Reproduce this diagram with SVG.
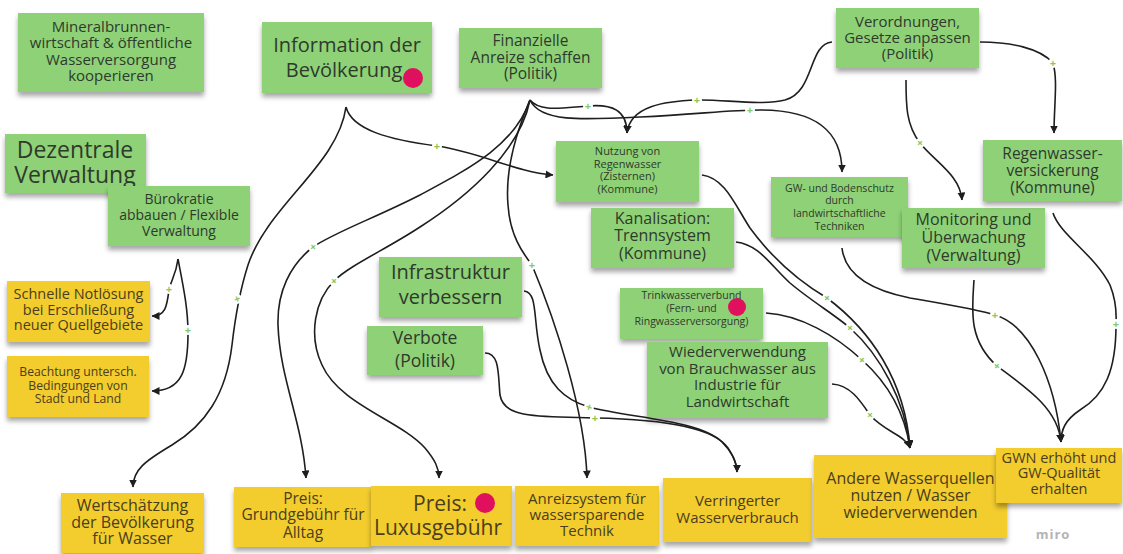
<svg xmlns="http://www.w3.org/2000/svg" width="1123" height="554" viewBox="0 0 1123 554">
  <defs>
    <style>
      .bg { fill: #ffffff; }
      .note { filter: url(#noteShadow); }
      .green { fill: #8fd177; }
      .yellow { fill: #f3cc2e; }
      .dot { fill: #e0105f; }
      text { font-family: "Open Sans", "Noto Sans", "Liberation Sans", sans-serif; text-anchor: middle; }
      .tg { fill: #2e3a2c; }
      .ty { fill: #4a3e1c; }
      .edge { fill: none; stroke: #1e1e1e; stroke-width: 1.6; marker-end: url(#arrow); }
      .gap { fill: #ffffff; }
      .plus { fill: #86c95e; font-size: 11px; font-weight: 700; }
      .brand { fill: #b4b4b4; font-size: 13px; font-weight: 700; letter-spacing: 1px; }
    </style>
    <filter id="noteShadow" x="-10%" y="-10%" width="120%" height="135%">
      <feDropShadow dx="0" dy="4" stdDeviation="2.5" flood-color="#000000" flood-opacity="0.35"/>
    </filter>
    <marker id="arrow" viewBox="0 0 8 8" refX="7.5" refY="4" markerWidth="8" markerHeight="8" markerUnits="userSpaceOnUse" orient="auto">
      <path d="M0,0 L8,4 L0,8 z" fill="#1e1e1e"/>
    </marker>
  </defs>

  <rect class="bg" x="0" y="0" width="1123" height="554"/>

  <!-- sticky notes -->
  <g id="n-mineral">
    <rect class="note green" x="18" y="13" width="186" height="79"/>
    <text class="tg" font-size="15"><tspan x="111" y="31.5">Mineralbrunnen-</tspan><tspan x="111" y="48">wirtschaft &amp; öffentliche</tspan><tspan x="111" y="64.5">Wasserversorgung</tspan><tspan x="111" y="81">kooperieren</tspan></text>
  </g>
  <g id="n-info">
    <rect class="note green" x="262" y="22" width="170" height="71"/>
    <text class="tg" font-size="20"><tspan x="347" y="52">Information der</tspan><tspan x="344" y="77">Bevölkerung</tspan></text>
    <circle class="dot" cx="413" cy="78" r="10"/>
  </g>
  <g id="n-dezentral">
    <rect class="note green" x="5" y="134" width="141" height="59"/>
    <text class="tg" font-size="23"><tspan x="75" y="158">Dezentrale</tspan><tspan x="75" y="183">Verwaltung</tspan></text>
  </g>
  <g id="n-buerokratie">
    <rect class="note green" x="108" y="186" width="142" height="60"/>
    <text class="tg" font-size="14"><tspan x="179" y="204">Bürokratie</tspan><tspan x="179" y="220">abbauen / Flexible</tspan><tspan x="179" y="236">Verwaltung</tspan></text>
  </g>
  <g id="n-finanz">
    <rect class="note green" x="459" y="28" width="143" height="60"/>
    <text class="tg" font-size="15.5"><tspan x="530.5" y="45.5">Finanzielle</tspan><tspan x="530.5" y="62.5">Anreize schaffen</tspan><tspan x="530.5" y="79">(Politik)</tspan></text>
  </g>
  <g id="n-verordnung">
    <rect class="note green" x="836" y="8" width="143" height="60"/>
    <text class="tg" font-size="15"><tspan x="907.5" y="27">Verordnungen,</tspan><tspan x="907.5" y="43">Gesetze anpassen</tspan><tspan x="907.5" y="59">(Politik)</tspan></text>
  </g>
  <g id="n-nutzung">
    <rect class="note green" x="556" y="141" width="143" height="61"/>
    <text class="tg" font-size="11"><tspan x="627.5" y="155">Nutzung von</tspan><tspan x="627.5" y="167.5">Regenwasser</tspan><tspan x="627.5" y="180">(Zisternen)</tspan><tspan x="627.5" y="192.5">(Kommune)</tspan></text>
  </g>
  <g id="n-kanal">
    <rect class="note green" x="591" y="208" width="143" height="60"/>
    <text class="tg" font-size="16"><tspan x="662.5" y="224">Kanalisation:</tspan><tspan x="662.5" y="241">Trennsystem</tspan><tspan x="662.5" y="259">(Kommune)</tspan></text>
  </g>
  <g id="n-gwschutz">
    <rect class="note green" x="771" y="177" width="137" height="60"/>
    <text class="tg" font-size="10.5"><tspan x="839.5" y="191.5">GW- und Bodenschutz</tspan><tspan x="839.5" y="204">durch</tspan><tspan x="839.5" y="216.7">landwirtschaftliche</tspan><tspan x="839.5" y="229.5">Techniken</tspan></text>
  </g>
  <g id="n-monitoring">
    <rect class="note green" x="902" y="208" width="143" height="60"/>
    <text class="tg" font-size="16"><tspan x="973.5" y="225">Monitoring und</tspan><tspan x="973.5" y="243">Überwachung</tspan><tspan x="973.5" y="261">(Verwaltung)</tspan></text>
  </g>
  <g id="n-versickerung">
    <rect class="note green" x="983" y="140" width="139" height="61"/>
    <text class="tg" font-size="15.5"><tspan x="1052.5" y="158.5">Regenwasser-</tspan><tspan x="1052.5" y="175.5">versickerung</tspan><tspan x="1052.5" y="192.5">(Kommune)</tspan></text>
  </g>
  <g id="n-infrastruktur">
    <rect class="note green" x="379" y="257" width="143" height="60"/>
    <text class="tg" font-size="20"><tspan x="450.5" y="279">Infrastruktur</tspan><tspan x="450.5" y="304">verbessern</tspan></text>
  </g>
  <g id="n-verbote">
    <rect class="note green" x="367" y="326" width="116" height="49"/>
    <text class="tg" font-size="17.5"><tspan x="425" y="344">Verbote</tspan><tspan x="425" y="367">(Politik)</tspan></text>
  </g>
  <g id="n-trinkwasser">
    <rect class="note green" x="620" y="288" width="143" height="51"/>
    <text class="tg" font-size="10.5"><tspan x="691.5" y="299">Trinkwasserverbund</tspan><tspan x="691.5" y="312">(Fern- und</tspan><tspan x="691.5" y="325">Ringwasserversorgung)</tspan></text>
    <circle class="dot" cx="737" cy="307" r="9"/>
  </g>
  <g id="n-wiederverwendung">
    <rect class="note green" x="647" y="342" width="181" height="76"/>
    <text class="tg" font-size="15"><tspan x="737.5" y="357">Wiederverwendung</tspan><tspan x="737.5" y="373.5">von Brauchwasser aus</tspan><tspan x="737.5" y="390">Industrie für</tspan><tspan x="737.5" y="406.5">Landwirtschaft</tspan></text>
  </g>

  <g id="n-notloesung">
    <rect class="note yellow" x="7" y="281" width="143" height="61"/>
    <text class="ty" font-size="14.5"><tspan x="78.5" y="299">Schnelle Notlösung</tspan><tspan x="78.5" y="315">bei Erschließung</tspan><tspan x="78.5" y="330">neuer Quellgebiete</tspan></text>
  </g>
  <g id="n-stadtland">
    <rect class="note yellow" x="7" y="356" width="142" height="61"/>
    <text class="ty" font-size="12.2"><tspan x="78" y="375.5">Beachtung untersch.</tspan><tspan x="78" y="389.5">Bedingungen von</tspan><tspan x="78" y="402.5">Stadt und Land</tspan></text>
  </g>
  <g id="n-wertschaetzung">
    <rect class="note yellow" x="61" y="493" width="143" height="60"/>
    <text class="ty" font-size="16"><tspan x="132.5" y="511">Wertschätzung</tspan><tspan x="132.5" y="528">der Bevölkerung</tspan><tspan x="132.5" y="544">für Wasser</tspan></text>
  </g>
  <g id="n-grundgebuehr">
    <rect class="note yellow" x="234" y="487" width="138" height="60"/>
    <text class="ty" font-size="15.5"><tspan x="303" y="503.5">Preis:</tspan><tspan x="303" y="519.5">Grundgebühr für</tspan><tspan x="303" y="537.5">Alltag</tspan></text>
  </g>
  <g id="n-luxusgebuehr">
    <rect class="note yellow" x="371" y="486" width="141" height="60"/>
    <text class="ty" font-size="21"><tspan x="440" y="510.5">Preis:</tspan><tspan x="438" y="534.5">Luxusgebühr</tspan></text>
    <circle class="dot" cx="485" cy="503" r="10"/>
  </g>
  <g id="n-anreizsystem">
    <rect class="note yellow" x="515" y="486" width="144" height="60"/>
    <text class="ty" font-size="15"><tspan x="587" y="503.5">Anreizsystem für</tspan><tspan x="587" y="519.5">wassersparende</tspan><tspan x="587" y="535.5">Technik</tspan></text>
  </g>
  <g id="n-verbrauch">
    <rect class="note yellow" x="663" y="478" width="149" height="64"/>
    <text class="ty" font-size="15"><tspan x="737.5" y="505.5">Verringerter</tspan><tspan x="737.5" y="522.5">Wasserverbrauch</tspan></text>
  </g>
  <g id="n-andere">
    <rect class="note yellow" x="814" y="455" width="193" height="83"/>
    <text class="ty" font-size="16"><tspan x="910.5" y="484">Andere Wasserquellen</tspan><tspan x="910.5" y="501">nutzen / Wasser</tspan><tspan x="910.5" y="518">wiederverwenden</tspan></text>
  </g>
  <g id="n-gwn">
    <rect class="note yellow" x="996" y="448" width="126" height="55"/>
    <text class="ty" font-size="14.5"><tspan x="1059" y="463">GWN erhöht und</tspan><tspan x="1059" y="478">GW-Qualität</tspan><tspan x="1059" y="494">erhalten</tspan></text>
  </g>

  <!-- connectors -->
  <g id="connectors">
    <path class="edge" d="M346,107 C352,130 390,140 437,146 C480,152 515,172 553,175"/>
    <path class="edge" d="M346,107 C338,165 268,205 248,265 C240,290 236,310 232,345 C226,395 205,425 172,445 C145,461 133,470 133,487"/>
    <path class="edge" d="M178,259 C176,275 171,280 169,290 C167,305 166,316 152,316"/>
    <path class="edge" d="M178,259 C183,285 188,308 188,333 C188,370 182,391 152,391"/>
    <path class="edge" d="M530,100 C540,112 560,108 588,106 C612,104 627,110 627,133"/>
    <path class="edge" d="M832,42 C808,44 815,92 785,100 C760,106 722,99 697,100 C665,101 630,106 627,133"/>
    <path class="edge" d="M530,100 C540,122 580,120 640,117 C700,114 730,110 760,110 C815,110 842,130 842,172"/>
    <path class="edge" d="M530,100 C515,145 470,168 420,195 C375,218 335,232 313,247 C290,265 277,292 278,325 C280,380 302,420 306,478"/>
    <path class="edge" d="M530,100 C520,150 470,195 420,227 C385,250 350,265 334,281 C315,300 308,335 322,365 C340,405 400,420 425,448 C435,460 439,468 439,478"/>
    <path class="edge" d="M530,100 C515,135 505,170 508,205 C510,235 522,252 532,265 C555,320 585,410 587,478"/>
    <path class="edge" d="M524,291 C538,292 533,320 540,350 C547,385 565,400 589,407 C630,418 700,420 722,442 C733,453 737,462 737,472"/>
    <path class="edge" d="M485,353 C500,353 498,375 500,395 C503,412 520,416 560,417 L595,418 C650,419 712,425 728,448 C734,457 737,465 737,472"/>
    <path class="edge" d="M906,80 C906,105 906,125 920,143 C935,162 960,175 962,200"/>
    <path class="edge" d="M980,42 C1010,42 1040,48 1053,63 C1058,80 1054,105 1054,133"/>
    <path class="edge" d="M702,175 C725,178 735,205 750,228 C775,262 805,285 827,298 C870,330 905,380 910,448"/>
    <path class="edge" d="M736,242 C760,245 770,265 790,283 C810,300 835,315 850,328 C880,355 905,400 910,448"/>
    <path class="edge" d="M766,313 C800,315 835,335 862,360 C890,385 905,415 910,448"/>
    <path class="edge" d="M832,384 C850,385 860,400 870,415 C885,432 905,435 910,448"/>
    <path class="edge" d="M842,248 C845,275 870,290 910,298 C950,305 980,310 995,315 C1030,325 1055,380 1061,442"/>
    <path class="edge" d="M974,280 C972,310 968,340 997,366 C1030,390 1058,410 1061,442"/>
    <path class="edge" d="M1053,213 C1060,235 1095,255 1110,285 C1118,305 1116,318 1116,325 C1116,370 1105,395 1080,410 C1065,420 1061,430 1061,442"/>

    <!-- "+" labels sitting on the lines -->
    <g id="labels">
      <circle class="gap" cx="437" cy="146" r="5"/><text class="plus" x="437" y="150">+</text>
      <circle class="gap" cx="237" cy="299" r="5"/><text class="plus" x="237" y="303" transform="rotate(-20 237 299)">+</text>
      <circle class="gap" cx="169" cy="289" r="5"/><text class="plus" x="169" y="293">+</text>
      <circle class="gap" cx="188" cy="330" r="5"/><text class="plus" x="188" y="334">+</text>
      <circle class="gap" cx="588" cy="106" r="5"/><text class="plus" x="588" y="110">+</text>
      <circle class="gap" cx="697" cy="100" r="5"/><text class="plus" x="697" y="104">+</text>
      <circle class="gap" cx="750" cy="110" r="5"/><text class="plus" x="750" y="114">+</text>
      <circle class="gap" cx="313" cy="247" r="5"/><text class="plus" x="313" y="251" transform="rotate(-40 313 247)">+</text>
      <circle class="gap" cx="334" cy="281" r="5"/><text class="plus" x="334" y="285" transform="rotate(-45 334 281)">+</text>
      <circle class="gap" cx="532" cy="265" r="5"/><text class="plus" x="532" y="269">+</text>
      <circle class="gap" cx="589" cy="407" r="5"/><text class="plus" x="589" y="411" transform="rotate(20 589 407)">+</text>
      <circle class="gap" cx="595" cy="418" r="5"/><text class="plus" x="595" y="422">+</text>
      <circle class="gap" cx="920" cy="143" r="5"/><text class="plus" x="920" y="147" transform="rotate(45 920 143)">+</text>
      <circle class="gap" cx="1053" cy="63" r="5"/><text class="plus" x="1053" y="67">+</text>
      <circle class="gap" cx="827" cy="298" r="5"/><text class="plus" x="827" y="302" transform="rotate(40 827 298)">+</text>
      <circle class="gap" cx="850" cy="328" r="5"/><text class="plus" x="850" y="332" transform="rotate(42 850 328)">+</text>
      <circle class="gap" cx="862" cy="360" r="5"/><text class="plus" x="862" y="364" transform="rotate(40 862 360)">+</text>
      <circle class="gap" cx="870" cy="415" r="5"/><text class="plus" x="870" y="419" transform="rotate(45 870 415)">+</text>
      <circle class="gap" cx="995" cy="315" r="5"/><text class="plus" x="995" y="319">+</text>
      <circle class="gap" cx="997" cy="366" r="5"/><text class="plus" x="997" y="370" transform="rotate(38 997 366)">+</text>
      <circle class="gap" cx="1116" cy="324" r="5"/><text class="plus" x="1116" y="328">+</text>
    </g>
  </g>

  <text class="brand" x="1053" y="539">miro</text>
</svg>
